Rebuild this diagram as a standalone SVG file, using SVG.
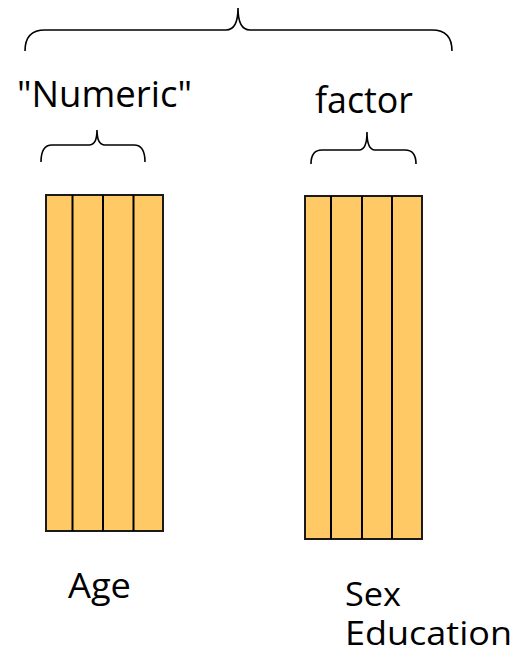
<svg xmlns="http://www.w3.org/2000/svg" width="530" height="663" viewBox="0 0 530 663">
<style>
.brace{fill:none;stroke:#000;stroke-width:1.6}
.col{fill:#FFCA66;stroke:#1a1a1a;stroke-width:2}
.div{stroke:#000;stroke-width:2}
.t{font-family:"Open Sans","Liberation Sans",sans-serif;fill:#000}
</style>
<rect width="530" height="663" fill="#fff"/>
<g id="connectors">
<path class="brace" d="M25,51 Q25,30 45,30 L226,30 Q238,30 238,8 Q238,30 250,30 L432,30 Q452,30 452,51"/>
<path class="brace" d="M41,162 Q41,145 52,145 L89,145 Q97,145 97,130 Q97,145 105,145 L134,145 Q145,145 145,162"/>
<path class="brace" d="M311,164 Q311,150 322,150 L359,150 Q367,150 367,132 Q367,150 375,150 L405,150 Q416,150 416,164"/>
</g>
<g id="label-numeric"><text class="t" x="17" y="107" font-size="37" textLength="175" lengthAdjust="spacingAndGlyphs">"Numeric"</text></g>
<g id="label-factor"><text class="t" x="315" y="113" font-size="37" textLength="98" lengthAdjust="spacingAndGlyphs">factor</text></g>
<g id="age">
<rect class="col" x="46" y="195" width="117" height="336"/>
<line class="div" x1="72.5" y1="195" x2="72.5" y2="531"/>
<line class="div" x1="103" y1="195" x2="103" y2="531"/>
<line class="div" x1="133.5" y1="195" x2="133.5" y2="531"/>
<text class="t" x="68" y="598" font-size="34" textLength="63" lengthAdjust="spacingAndGlyphs">Age</text>
</g>
<g id="sex-education">
<rect class="col" x="305" y="196" width="117" height="343"/>
<line class="div" x1="331" y1="196" x2="331" y2="539"/>
<line class="div" x1="362" y1="196" x2="362" y2="539"/>
<line class="div" x1="392" y1="196" x2="392" y2="539"/>
<text class="t" font-size="33"><tspan x="345" y="606" textLength="56" lengthAdjust="spacingAndGlyphs">Sex</tspan><tspan x="345" y="645" textLength="167" lengthAdjust="spacingAndGlyphs">Education</tspan></text>
</g>
</svg>
